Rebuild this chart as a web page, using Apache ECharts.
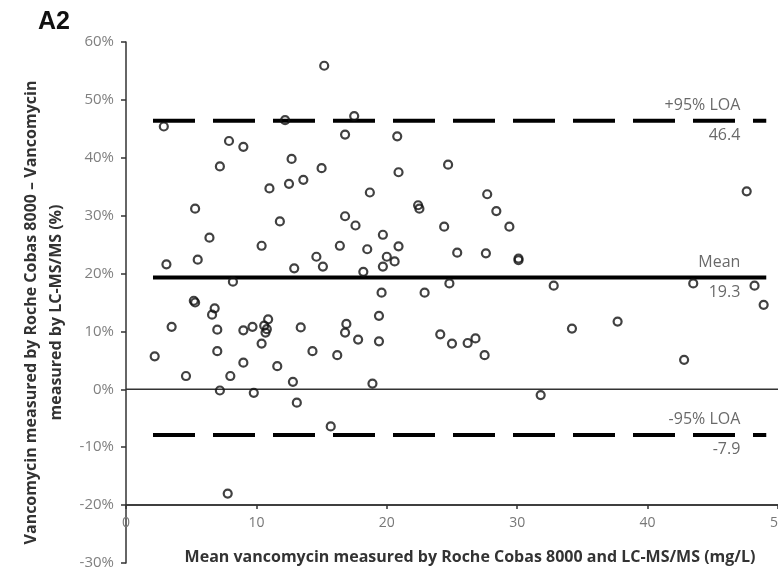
<!DOCTYPE html>
<html>
<head>
<meta charset="utf-8">
<script src="https://cdn.jsdelivr.net/npm/echarts@6/dist/echarts.min.js"></script>
<style>
html,body{margin:0;padding:0;background:#fff;}
#chart{width:778px;height:570px;}
</style>
</head>
<body>
<div id="chart"></div>
<script>
// Mean concentration (mg/L) and relative difference (%) per sample
const meanConc = [
  2.9, 15.2, 12.2, 7.9, 9.0, 7.2, 12.7, 15.0, 11.0, 12.5,
  13.6, 5.3, 11.8, 6.4, 10.4, 3.1, 5.5, 14.6, 15.1, 12.9,
  16.8, 16.8, 16.4, 17.5, 17.6, 18.5, 18.7, 18.2, 19.6, 19.7,
  20.0, 20.6, 19.7, 20.9, 20.9, 20.8, 24.7, 22.4, 22.5, 27.7,
  28.4, 29.4, 24.4, 25.4, 27.6, 30.1, 30.1, 47.6, 43.5, 48.2,
  32.8, 24.8, 22.9, 48.9, 34.2, 37.7, 42.8, 31.8, 24.1, 25.0,
  26.2, 26.8, 27.5, 16.9, 16.8, 17.8, 19.4, 19.4, 16.2, 18.9,
  8.2, 5.2, 5.3, 6.8, 6.6, 3.5, 7.0, 9.0, 9.7, 10.9,
  10.6, 10.8, 10.7, 10.4, 13.4, 2.2, 7.0, 9.0, 11.6, 14.3,
  4.6, 8.0, 12.8, 7.2, 9.8, 13.1, 15.7, 7.8
];
const diffPct = [
  45.4, 55.9, 46.5, 42.9, 41.9, 38.5, 39.8, 38.2, 34.7, 35.5,
  36.2, 31.2, 29.0, 26.2, 24.8, 21.6, 22.4, 22.9, 21.2, 20.9,
  44.0, 29.9, 24.8, 47.2, 28.3, 24.2, 34.0, 20.3, 16.7, 21.2,
  22.9, 22.1, 26.7, 24.7, 37.5, 43.7, 38.8, 31.8, 31.2, 33.7,
  30.8, 28.1, 28.1, 23.6, 23.5, 22.6, 22.3, 34.2, 18.3, 17.9,
  17.9, 18.3, 16.7, 14.6, 10.5, 11.7, 5.1, -1.0, 9.5, 7.9,
  8.0, 8.8, 5.9, 11.3, 9.8, 8.6, 12.7, 8.3, 5.9, 1.0,
  18.6, 15.3, 15.0, 14.0, 12.9, 10.8, 10.3, 10.2, 10.8, 12.1,
  11.0, 10.4, 9.8, 7.9, 10.7, 5.7, 6.6, 4.6, 4.0, 6.6,
  2.3, 2.3, 1.3, -0.2, -0.6, -2.3, -6.4, -18.0
];
// Bland-Altman reference lines
const refNames = ['+95% LOA', 'Mean', '-95% LOA'];
const refValues = [46.4, 19.3, -7.9];
const refText = ['46.4', '19.3', '-7.9'];
const refLineX = [2.07, 49.1];
const labelX = 47.15;
// Axes
const xTicks = [0, 10, 20, 30, 40, 50];
const xAxisCrossY = -20;
const yMin = -30, yMax = 60, yStep = 10;

const points = meanConc.map((x, i) => [x, diffPct[i]]);
const FONT = 'Open Sans';

const refSeries = refValues.map((v, i) => ({
  type: 'line',
  data: [[refLineX[0], v], [refLineX[1], v]],
  symbol: 'none',
  silent: true,
  z: 3,
  lineStyle: {
    color: '#000',
    width: 4,
    type: i === 1 ? 'solid' : [42, 18],
    cap: 'butt'
  }
}));

const labelTop = refValues.map((v, i) => ({ value: [labelX, v], text: refNames[i] }));
const labelBottom = refValues.map((v, i) => ({ value: [labelX, v], text: refText[i] }));

const chart = echarts.init(document.getElementById('chart'), null, { renderer: 'canvas' });
chart.setOption({
  animation: false,
  backgroundColor: '#fff',
  title: {
    text: 'A2',
    left: 33, top: 5,
    textStyle: { fontFamily: 'Liberation Sans', fontWeight: 'bold', fontSize: 25, color: '#111' }
  },
  grid: { left: 126, right: 0, top: 42, bottom: 7, containLabel: false, outerBoundsMode: 'none' },
  xAxis: {
    type: 'value',
    min: xTicks[0], max: xTicks[xTicks.length - 1], interval: 10,
    offset: -58,
    axisLine: { show: true, onZero: false, lineStyle: { color: '#333', width: 1.5 } },
    axisTick: { show: true, length: 4, lineStyle: { color: '#333', width: 1.5 } },
    axisLabel: { margin: 11, color: '#777', fontFamily: FONT, fontSize: 14 },
    splitLine: { show: false },
    name: 'Mean vancomycin measured by Roche Cobas 8000 and LC-MS/MS (mg/L)',
    nameLocation: 'middle',
    nameGap: 44,
    nameTextStyle: { fontFamily: FONT, fontWeight: 'bold', fontSize: 16, color: '#333', padding: [0, 0, 0, 36] }
  },
  yAxis: {
    type: 'value',
    min: yMin, max: yMax, interval: yStep,
    axisLine: { show: true, lineStyle: { color: '#333', width: 1.5 } },
    axisTick: { show: true, length: 5, lineStyle: { color: '#333', width: 1.5 } },
    axisLabel: { margin: 12, color: '#808080', fontFamily: FONT, fontSize: 15, formatter: v => v + '%' },
    splitLine: { show: false },
    name: 'Vancomycin measured by Roche Cobas 8000 \u2013 Vancomycin\nmeasured by LC-MS/MS (%)',
    nameLocation: 'middle',
    nameRotate: 90,
    nameGap: 57,
    nameTextStyle: { fontFamily: FONT, fontWeight: 'bold', fontSize: 16, color: '#333', lineHeight: 25, align: 'center', padding: [0, 20, 0, 0] }
  },
  series: [
    {
      type: 'line',
      data: [[0, 0], [50, 0]],
      symbol: 'none', silent: true, z: 1,
      lineStyle: { color: '#333', width: 1.5 }
    },
    {
      type: 'line',
      data: [[0, xAxisCrossY], [50, xAxisCrossY]],
      symbol: 'none', silent: true, z: 1,
      lineStyle: { color: '#333', width: 1.5 }
    },
    ...refSeries,
    {
      type: 'scatter',
      data: points,
      symbol: 'circle',
      symbolSize: 8,
      z: 4,
      itemStyle: { color: 'rgba(255,255,255,0)', borderColor: '#111', borderWidth: 2.2 }
    },
    {
      type: 'scatter',
      data: labelTop,
      symbolSize: 1,
      silent: true,
      itemStyle: { color: 'rgba(0,0,0,0)' },
      label: {
        show: true, position: [0, -7], align: 'right', verticalAlign: 'bottom',
        formatter: p => p.data.text,
        fontFamily: FONT, fontSize: 16, color: '#444'
      }
    },
    {
      type: 'scatter',
      data: labelBottom,
      symbolSize: 1,
      silent: true,
      itemStyle: { color: 'rgba(0,0,0,0)' },
      label: {
        show: true, position: [0, 7], align: 'right', verticalAlign: 'top',
        formatter: p => p.data.text,
        fontFamily: FONT, fontSize: 16, color: '#444'
      }
    }
  ]
});
</script>
</body>
</html>
